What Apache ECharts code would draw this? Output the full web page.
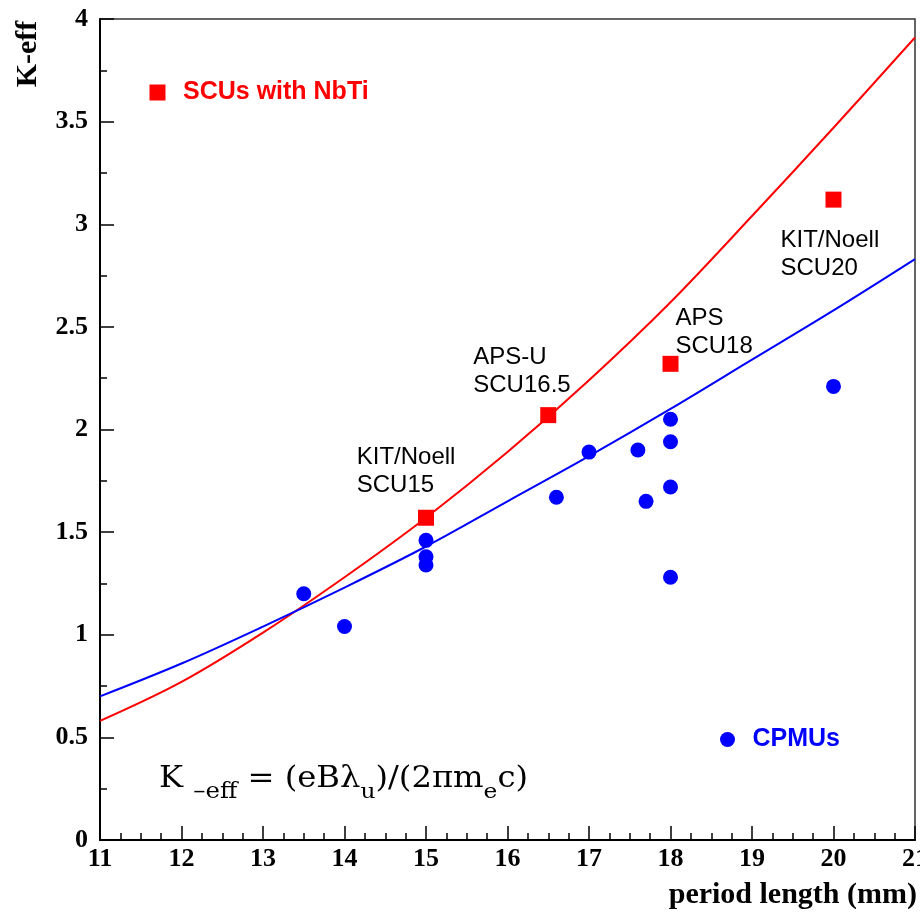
<!DOCTYPE html>
<html>
<head>
<meta charset="utf-8">
<title>K-eff vs period length</title>
<script src="https://cdn.jsdelivr.net/npm/echarts@6.0.0/dist/echarts.min.js"></script>
<style>
  html, body { margin: 0; padding: 0; background: #fff; }
  #chart { width: 920px; height: 915px; }
</style>
</head>
<body>
<div id="chart"></div>
<script>
// fit curves at each mm
const curveLambda = [11, 12, 13, 14, 15, 16, 17, 18, 19, 20, 21];
const scuCurve = [0.58, 0.77, 1.01, 1.28, 1.57, 1.89, 2.24, 2.62, 3.04, 3.47, 3.91];
const cpmuCurve = [0.70, 0.86, 1.04, 1.23, 1.43, 1.65, 1.87, 2.10, 2.34, 2.58, 2.83];

// SCUs with NbTi
const scuLambda = [15, 16.5, 18, 20];
const scuK = [1.57, 2.07, 2.32, 3.12];

// CPMUs
const cpmuLambda = [13.5, 14, 15, 15, 15, 16.6, 17, 17.6, 17.7, 18, 18, 18, 18, 20];
const cpmuK = [1.20, 1.04, 1.46, 1.38, 1.34, 1.67, 1.89, 1.90, 1.65, 2.05, 1.94, 1.72, 1.28, 2.21];

// device names, anchored at upper-left corner of the text
const noteText = ['KIT/Noell\nSCU15', 'APS-U\nSCU16.5', 'APS\nSCU18', 'KIT/Noell\nSCU20'];
const noteLambda = [14.15, 15.58, 18.06, 19.35];
const noteK = [1.93, 2.42, 2.61, 2.99];

// formula pieces: 0 = normal, 1/2 = subscript
const formulaText = ['K ', '\u2013eff', ' = (eB\u03bb', 'u', ')/(2\u03c0m', 'e', 'c)'];
const formulaSub = [0, 1, 0, 2, 0, 2, 0];

const RED = '#ff0000';
const BLUE = '#0000ff';
const SERIF = '"Liberation Serif", "DejaVu Serif", serif';
const SANS = '"Liberation Sans", Arial, sans-serif';
const MATH = '"DejaVu Serif", serif';

function pairs(xs, ys) {
    return xs.map((x, i) => [x, ys[i]]);
}

// lay the formula out piece by piece, subscripts dropped below the baseline
function buildFormula(left, baseline, targetWidth) {
    let ctx = document.createElement('canvas').getContext('2d');
    let sizes = [29, 22, 21];
    let drops = [0, 10, 10];
    let x = 0;
    let children = [];
    formulaText.forEach((t, i) => {
        let s = sizes[formulaSub[i]];
        ctx.font = s + 'px ' + MATH;
        children.push({
            type: 'text', x: x, y: drops[formulaSub[i]] - 0.346 * s,
            style: {text: t, font: s + 'px ' + MATH, fill: '#000', verticalAlign: 'middle'}
        });
        x += ctx.measureText(t).width;
    });
    return {type: 'group', x: left, y: baseline, scaleX: targetWidth / x, children: children};
}

let chart = echarts.init(document.getElementById('chart'), null, {renderer: 'canvas'});

let option = {
    animation: false,
    backgroundColor: '#fff',
    grid: {
        left: 100, right: 5, top: 19, bottom: 75,
        show: true, borderColor: '#333', borderWidth: 1.5,
        outerBoundsMode: 'none'
    },
    xAxis: {
        type: 'value', min: 11, max: 21, interval: 1,
        axisLine: {onZero: false, lineStyle: {color: '#000', width: 2}},
        axisTick: {inside: true, length: 14, lineStyle: {color: '#000', width: 1.5}},
        minorTick: {show: true, splitNumber: 4, length: 7, lineStyle: {color: '#000', width: 1.5}},
        splitLine: {show: false},
        axisLabel: {margin: 6, color: '#000', fontFamily: SERIF, fontWeight: 'bold', fontSize: 26}
    },
    yAxis: {
        type: 'value', min: 0, max: 4, interval: 0.5,
        axisLine: {show: true, onZero: false, lineStyle: {color: '#000', width: 2}},
        axisTick: {show: true, inside: true, length: 14, lineStyle: {color: '#000', width: 1.5}},
        minorTick: {show: true, splitNumber: 2, length: 7, lineStyle: {color: '#000', width: 1.5}},
        splitLine: {show: false},
        axisLabel: {margin: 12, color: '#000', fontFamily: SERIF, fontWeight: 'bold', fontSize: 26}
    },
    legend: [{
        left: 149.5, top: 80, padding: 0, itemGap: 0,
        itemWidth: 41, itemHeight: 16,
        data: [{name: 'SCUs with NbTi', icon: 'path://M0,0H10V10H0Z',
            textStyle: {color: RED, fontFamily: SANS, fontWeight: 'bold', fontSize: 25}}]
    }, {
        left: 720, top: 727, padding: 0, itemGap: 0,
        itemWidth: 40, itemHeight: 15,
        data: [{name: 'CPMUs', icon: 'circle',
            textStyle: {color: BLUE, fontFamily: SANS, fontWeight: 'bold', fontSize: 25}}]
    }],
    graphic: [{
        type: 'text', x: 28, y: 54, rotation: Math.PI / 2,
        style: {text: 'K-eff', align: 'center', verticalAlign: 'middle',
            font: 'bold 30px ' + SERIF, fill: '#000'}
    }, {
        type: 'text', x: 917, y: 910,
        style: {text: 'period length (mm)', align: 'right', verticalAlign: 'bottom',
            font: 'bold 30px ' + SERIF, fill: '#000'}
    }, buildFormula(159, 790, 369)],
    series: [{
        name: 'SCU fit', type: 'line', smooth: 0.35, showSymbol: false,
        lineStyle: {color: RED, width: 2},
        data: pairs(curveLambda, scuCurve)
    }, {
        name: 'CPMU fit', type: 'line', smooth: 0.35, showSymbol: false,
        lineStyle: {color: BLUE, width: 2},
        data: pairs(curveLambda, cpmuCurve)
    }, {
        name: 'SCUs with NbTi', type: 'scatter', symbol: 'rect', symbolSize: 16,
        itemStyle: {color: RED, opacity: 1},
        data: pairs(scuLambda, scuK)
    }, {
        name: 'CPMUs', type: 'scatter', symbol: 'circle', symbolSize: 15,
        itemStyle: {color: BLUE, opacity: 1},
        data: pairs(cpmuLambda, cpmuK)
    }, {
        name: 'notes', type: 'scatter', symbolSize: 0, silent: true,
        itemStyle: {color: 'rgba(0,0,0,0)'},
        label: {
            show: true, position: [0, 0], align: 'left', verticalAlign: 'top',
            formatter: '{b}', color: '#000000', opacity: 1, textBorderWidth: 0,
            fontFamily: SANS, fontSize: 24, lineHeight: 28
        },
        data: noteText.map((t, i) => ({name: t, value: [noteLambda[i], noteK[i]]}))
    }]
};

chart.setOption(option);

window.onresize = function () {
    chart.resize();
};
</script>
</body>
</html>
